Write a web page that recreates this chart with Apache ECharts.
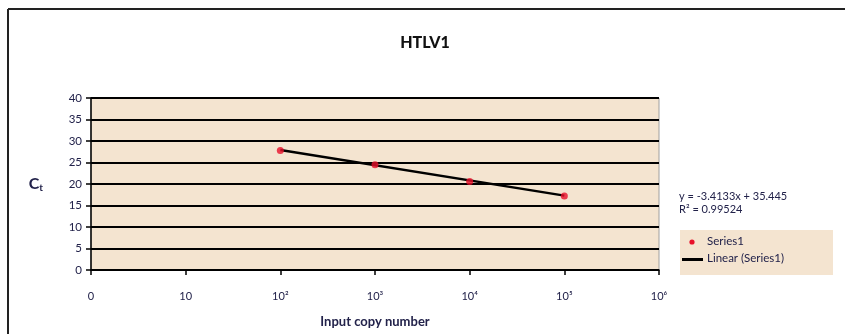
<!DOCTYPE html>
<html>
<head>
<meta charset="utf-8">
<script src="https://cdn.jsdelivr.net/npm/echarts@6/dist/echarts.min.js"></script>
<style>
  html, body { margin: 0; padding: 0; background: #fff; }
  #chart { width: 845px; height: 334px; }
</style>
</head>
<body>
<div id="chart"></div>
<script>
// Standard curve for HTLV1: Ct versus log10 of input copy number
const tickLabels = ['0', '10', '10²', '10³', '10⁴', '10⁵', '10⁶'];
const logCopies = [2, 3, 4, 5];
const ctValues = [27.8, 24.5, 20.6, 17.2];
const trendX = [2, 5];
const trendCt = [27.9, 17.3];
const equationLines = ['y = -3.4133x + 35.445', 'R² = 0.99524'];
const legendNames = ['Series1', 'Linear (Series1)'];

const textColor = '#22224a';
const font = "'Lato', sans-serif";
const plotFill = '#f4e4d0';

const chart = echarts.init(document.getElementById('chart'));
chart.setOption({
  animation: false,
  backgroundColor: '#fff',
  textStyle: { fontFamily: font, color: textColor },
  title: {
    text: 'HTLV1',
    left: 420, top: 30, textAlign: 'center',
    textStyle: { fontSize: 16, fontWeight: 900, color: '#111', fontFamily: font }
  },
  grid: { left: 91, right: 186, top: 98, bottom: 64, show: true, backgroundColor: plotFill, borderColor: '#a0a0a0', borderWidth: 1 },
  xAxis: {
    type: 'value', min: 0, max: 6, interval: 1,
    name: 'Input copy number', nameLocation: 'middle', nameGap: 45,
    nameTextStyle: { fontSize: 13, fontWeight: 'bold', color: textColor, fontFamily: font },
    axisLine: { onZero: false, lineStyle: { color: '#000', width: 1.5 } },
    axisTick: { show: true, length: 5, lineStyle: { color: '#000', width: 1.5 } },
    axisLabel: { margin: 21, fontSize: 11, color: textColor, formatter: v => tickLabels[v] },
    splitLine: { show: false }
  },
  yAxis: {
    type: 'value', min: 0, max: 40, interval: 5,
    name: '{c|C}{t|t}', nameLocation: 'middle', nameGap: 48, nameRotate: 0,
    nameTextStyle: {
      rich: {
        c: { fontSize: 16, fontWeight: 'bold', color: textColor, fontFamily: font },
        t: { fontSize: 10, fontWeight: 'bold', color: textColor, fontFamily: font, verticalAlign: 'bottom', padding: [8, 0, 0, 0] }
      }
    },
    axisLine: { show: true, lineStyle: { color: '#000', width: 1.5 } },
    axisTick: { show: true, length: 5, lineStyle: { color: '#000', width: 1.5 } },
    axisLabel: { margin: 9, fontSize: 11.5, color: textColor },
    splitLine: { show: true, lineStyle: { color: '#000', width: 2 } }
  },
  legend: { show: false },
  graphic: [
    { type: 'line', shape: { x1: 8, y1: 9, x2: 845, y2: 9 }, style: { stroke: '#222', lineWidth: 2 } },
    { type: 'line', shape: { x1: 8, y1: 9, x2: 8, y2: 334 }, style: { stroke: '#222', lineWidth: 2 } },
    { type: 'text', left: 679, top: 190, style: { text: equationLines.join('\n'), font: `11px ${font}`, fill: textColor, lineHeight: 13 } },
    // legend box
    { type: 'rect', shape: { x: 680, y: 230, width: 153, height: 45 }, style: { fill: plotFill } },
    { type: 'circle', shape: { cx: 692, cy: 242, r: 2.6 }, style: { fill: '#e8102a' } },
    { type: 'text', left: 707, top: 235, style: { text: legendNames[0], font: `11.5px ${font}`, fill: textColor } },
    { type: 'rect', shape: { x: 682, y: 258, width: 21, height: 3 }, style: { fill: '#000' } },
    { type: 'text', left: 707, top: 252, style: { text: legendNames[1], font: `11.5px ${font}`, fill: textColor } }
  ],
  series: [
    {
      name: legendNames[1], type: 'line', symbol: 'none', z: 2,
      data: trendX.map((x, i) => [x, trendCt[i]]),
      lineStyle: { color: '#000', width: 2.5 }, itemStyle: { color: '#000' }
    },
    {
      name: legendNames[0], type: 'scatter', symbol: 'circle', symbolSize: 7, z: 3,
      data: logCopies.map((x, i) => [x, ctValues[i]]),
      itemStyle: { color: '#e8102a' }
    }
  ]
});
</script>
</body>
</html>
